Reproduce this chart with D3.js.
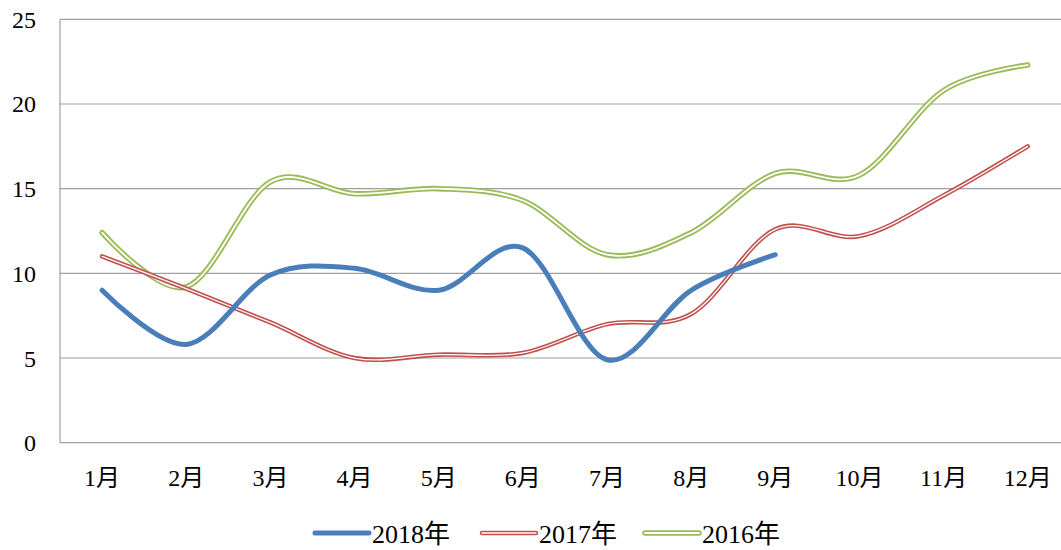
<!DOCTYPE html>
<html>
<head>
<meta charset="utf-8">
<script src="https://cdn.jsdelivr.net/npm/d3@7"></script>
<style>
  body { margin: 0; background: #fff; }
  svg { display: block; font-family: "Times New Roman", "Liberation Serif", "Noto Sans CJK SC", serif; }
</style>
</head>
<body>
<div id="chart"></div>
<script>
const months = ['1月', '2月', '3月', '4月', '5月', '6月', '7月', '8月', '9月', '10月', '11月', '12月'];
const yTicks = [0, 5, 10, 15, 20, 25];

const values2018 = [9.0, 5.8, 9.9, 10.3, 9.0, 11.5, 4.9, 9.0, 11.1];
const values2017 = [11.0, 9.1, 7.1, 5.0, 5.2, 5.3, 7.0, 7.6, 12.6, 12.2, 14.6, 17.5];
const values2016 = [12.4, 9.2, 15.4, 14.7, 15.0, 14.3, 11.1, 12.4, 15.9, 15.8, 20.8, 22.3];

const series = [
  { name: '2018年', values: values2018, color: '#4a7ebb', width: 5, inner: 0 },
  { name: '2017年', values: values2017, color: '#c0504d', width: 4.5, inner: 1.3 },
  { name: '2016年', values: values2016, color: '#9bbb59', width: 5.5, inner: 1.8 },
];

const width = 1061;
const height = 550;
const margin = { top: 19.3, left: 60, bottom: 442.7 };
const step = 84.15;

const svg = d3.select('#chart').append('svg')
  .attr('width', width)
  .attr('height', height);

const x = d3.scalePoint()
  .domain(months)
  .range([margin.left, margin.left + step * months.length])
  .padding(0.5);

const y = d3.scaleLinear()
  .domain([0, 25])
  .range([margin.bottom, margin.top]);

// gridlines
svg.append('g')
  .selectAll('line')
  .data(yTicks)
  .join('line')
  .attr('x1', margin.left)
  .attr('x2', width)
  .attr('y1', d => y(d))
  .attr('y2', d => y(d))
  .attr('stroke', '#a0a0a0')
  .attr('stroke-width', 1.2);

// y axis line
svg.append('line')
  .attr('x1', margin.left)
  .attr('x2', margin.left)
  .attr('y1', y(25))
  .attr('y2', y(0))
  .attr('stroke', '#a0a0a0')
  .attr('stroke-width', 1.2);

// y tick labels
svg.append('g')
  .selectAll('text')
  .data(yTicks)
  .join('text')
  .attr('x', 36)
  .attr('y', d => y(d) + 8.5)
  .attr('text-anchor', 'end')
  .attr('font-size', 24)
  .attr('fill', '#000')
  .text(d => d);

// x tick labels
svg.append('g')
  .selectAll('text')
  .data(months)
  .join('text')
  .attr('x', d => x(d))
  .attr('y', 486)
  .attr('text-anchor', 'middle')
  .attr('font-size', 24)
  .attr('fill', '#000')
  .text(d => d);

const line = d3.line()
  .x((d, i) => x(months[i]))
  .y(d => y(d))
  .curve(d3.curveCardinal.tension(0));

// draw later series first so 2018 sits on top
const gLines = svg.append('g').attr('fill', 'none');
series.slice().reverse().forEach((s) => {
  gLines.append('path')
    .attr('d', line(s.values))
    .attr('stroke', s.color)
    .attr('stroke-width', s.width)
    .attr('stroke-linecap', 'round')
    .attr('stroke-linejoin', 'round');
  if (s.inner) {
    gLines.append('path')
      .attr('d', line(s.values))
      .attr('stroke', '#fff')
      .attr('stroke-width', s.inner)
      .attr('stroke-linecap', 'round');
  }
});

// legend
const legendX = [315, 482, 645];
const legend = svg.append('g');
series.forEach((s, i) => {
  const g = legend.append('g').attr('transform', `translate(${legendX[i]},533)`);
  g.append('line')
    .attr('x1', 0).attr('x2', 54)
    .attr('stroke', s.color)
    .attr('stroke-width', s.width)
    .attr('stroke-linecap', 'round');
  if (s.inner) {
    g.append('line')
      .attr('x1', 0).attr('x2', 54)
      .attr('stroke', '#fff')
      .attr('stroke-width', s.inner)
      .attr('stroke-linecap', 'round');
  }
  g.append('text')
    .attr('x', 57)
    .attr('y', 10)
    .attr('font-size', 26)
    .attr('fill', '#000')
    .text(s.name);
});
</script>
</body>
</html>
